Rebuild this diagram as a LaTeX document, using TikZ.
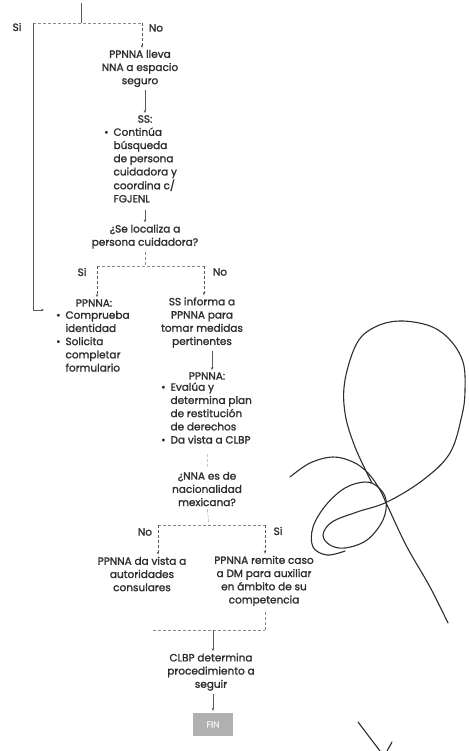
\documentclass[tikz,border=0pt]{standalone}
\usepackage{fontspec}
\setmainfont{Poppins}[FakeBold=1.5]
\usepackage{tikz}
\usetikzlibrary{arrows.meta, positioning}
\definecolor{ink}{HTML}{2E2E2E}
\definecolor{wire}{HTML}{5A5A5A}
\newcommand{\blist}[1]{{\renewcommand{\arraystretch}{1}\begin{tabular}{@{}l@{\hspace{5pt}}l@{}}#1\end{tabular}}}

\begin{document}
\begin{tikzpicture}[
    x=1pt, y=-1pt,
    txt/.style={align=center, inner sep=0pt, text=ink},
    lst/.style={anchor=west, inner sep=0pt, text=ink},
    arrow/.style={-{Stealth[length=3pt,width=2.6pt]}, draw=wire, thin, shorten <=3pt, shorten >=2pt},
    dline/.style={densely dashed, draw=wire!70, thin},
    lbl/.style={inner sep=0pt, text=ink},
    finbox/.style={fill=gray!62, minimum width=40pt, minimum height=23pt, text=white!88!gray, font=\fontsize{9}{10}\selectfont},
    sign/.style={gray!35!black, line width=1.1pt, line cap=round},
    every node/.append style={font=\fontsize{10.5}{13.2}\selectfont}
]
    \useasboundingbox (0,0) rectangle (468,751);

    % Nodes
    \node[txt] (lleva)  at (140,68.5)  {PPNNA lleva\\NNA a espacio\\seguro};
    \node[txt] (sshead) at (145,119)   {SS:};
    \node[lst] (sslist) at (104,166.5) {\blist{\textbullet & Continúa\\ & búsqueda\\ & de persona\\ & cuidadora y\\ & coordina c/\\ & FGJENL}};
    \node[txt] (q1)     at (145,236.5) {¿Se localiza a\\persona cuidadora?};
    \node[txt] (lhead)  at (94,303)    {PPNNA:};
    \node[lst] (llist)  at (56,342.5)  {\blist{\textbullet & Comprueba\\ & identidad\\ \textbullet & Solicita\\ & completar\\ & formulario}};
    \node[txt] (ssinf)  at (202,322.5) {SS informa a\\PPNNA para\\tomar medidas\\pertinentes};
    \node[txt] (rhead)  at (207,376)   {PPNNA:};
    \node[lst] (rlist)  at (161,414.5) {\blist{\textbullet & Evalúa y\\ & determina plan\\ & de restitución\\ & de derechos\\ \textbullet & Da vista a CLBP}};
    \node[txt] (q2)     at (207,489)   {¿NNA es de\\nacionalidad\\mexicana?};
    \node[txt] (davista) at (142,574)  {PPNNA da vista a\\autoridades\\consulares};
    \node[txt] (remite) at (264,581)   {PPNNA remite caso\\a DM para auxiliar\\en ámbito de su\\competencia};
    \node[txt] (clbp)   at (211,672)   {CLBP determina\\procedimiento a\\seguir};
    \node[finbox] (fin) at (213,724.5) {FIN};

    % Junctions
    \coordinate (top)  at (81,3);
    \coordinate (j0)   at (81,23);
    \coordinate (j0l)  at (33,23);
    \coordinate (j0r)  at (142,23);
    \coordinate (back) at (33,310);
    \coordinate (j1)   at (145,266);
    \coordinate (j1l)  at (97,266);
    \coordinate (j1r)  at (204,266);
    \coordinate (j2)   at (209,525);
    \coordinate (j2l)  at (158,525);
    \coordinate (j2r)  at (265,525);
    \coordinate (j3)   at (213,630);
    \coordinate (j3l)  at (153,630);
    \coordinate (j3r)  at (265,630);

    % Labels
    \node[lbl] (si0) at (17,27)  {Si};
    \node[lbl] (no0) at (156,28) {No};
    \node[lbl] (si1) at (82,272) {Si};
    \node[lbl] (no1) at (220,272) {No};
    \node[lbl] (no2) at (145,532) {No};
    \node[lbl] (si2) at (278,531) {Si};

    % Transitions
    \draw[wire] (top) -- (j0);
    \draw[dline] (j0l) -- (j0r);
    \draw[arrow, shorten <=0pt] (j0l) -- (back) -- ([xshift=-10pt]back -| llist.west);
    \draw[arrow, densely dashed, shorten <=0pt] (j0r) -- (lleva.north -| j0r);
    \draw[arrow] (lleva.south -| sshead.north) -- (sshead.north);
    \draw[arrow] (sslist.south -| q1.north) -- (q1.north);
    \draw[dline, shorten <=3pt] (q1.south) -- (j1);
    \draw[dline] (j1l) -- (j1r);
    \draw[arrow, densely dashed, shorten <=0pt] (j1l) -- (j1l |- lhead.north);
    \draw[arrow, densely dashed, shorten <=0pt] (j1r) -- (j1r |- ssinf.north);
    \draw[arrow] ([xshift=10pt]ssinf.south) -- ([xshift=5pt]rhead.north);
    \draw[dline, draw=gray!45, shorten <=6pt, shorten >=3pt] (rlist.south -| q2.north) -- (q2.north);
    \draw[dline, shorten <=3pt] (q2.south) -- (j2);
    \draw[dline] (j2l) -- (j2r);
    \draw[arrow, densely dashed, shorten <=0pt] (j2l) -- (j2l |- davista.north);
    \draw[arrow, densely dashed, shorten <=0pt] (j2r) -- (j2r |- remite.north);
    \draw[dline, shorten <=6pt] (remite.south -| j3r) -- (j3r);
    \draw[dline] (j3l) -- (j3r);
    \draw[arrow, shorten <=0pt] (j3) -- (clbp.north -| j3);
    \draw[arrow] (clbp.south -| fin.north) -- (fin.north);

    % Firma
    \draw[sign] plot[smooth, tension=0.6] coordinates {
        (290,477) (310,463) (333,457) (353,462) (368,473) (380,490) (388,507)
        (407,547) (430,587) (448,623)};
    \draw[sign] plot[smooth, tension=0.6] coordinates {
        (372,483) (355,447) (345,413) (345,380) (357,343) (375,327) (400,321)
        (430,326) (450,340) (463,362) (465,390) (462,415) (450,453) (423,480)
        (387,502) (357,512) (332,522) (323,535) (330,545) (345,548) (367,540)
        (383,520) (386,500) (378,487) (365,482) (345,488) (326,505) (313,527)
        (313,547) (327,555) (345,551)};
    \draw[sign] (358,722) -- (380,751);
    \draw[sign] (392,742) -- (387,751);
\end{tikzpicture}
\end{document}
